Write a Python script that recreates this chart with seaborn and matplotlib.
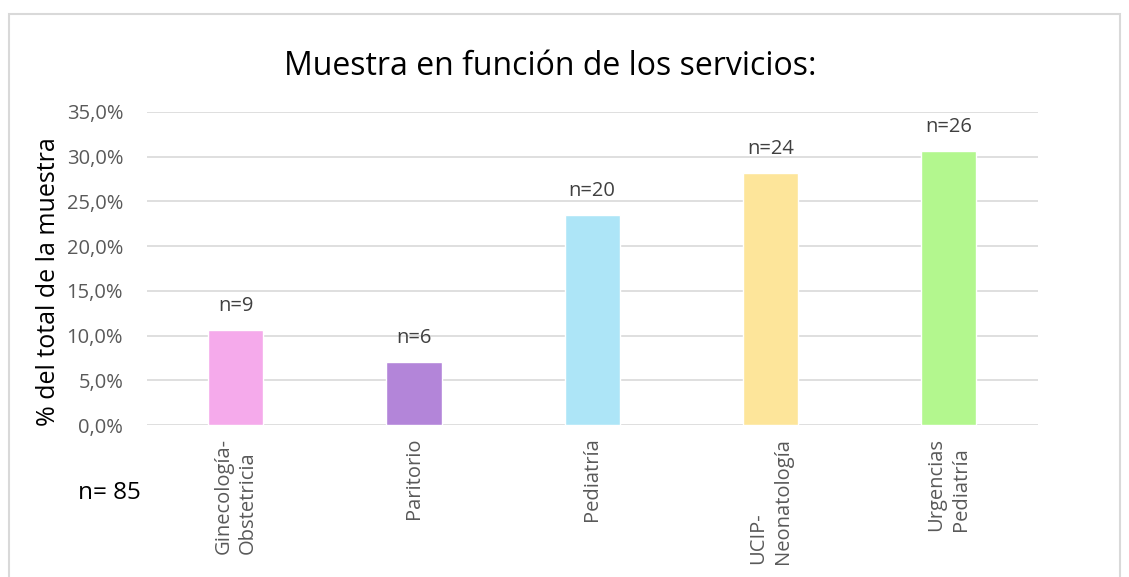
import matplotlib
matplotlib.use("Agg")
import matplotlib.pyplot as plt
import matplotlib.ticker as ticker
from matplotlib.patches import Rectangle
import seaborn as sns
import pandas as pd

servicios = ["Ginecología-\nObstetricia", "Paritorio", "Pediatría", "UCIP-\nNeonatología", "Urgencias\nPediatría"]
porcentajes = [10.6, 7.1, 23.5, 28.2, 30.6]
n_etiquetas = ["n=9", "n=6", "n=20", "n=24", "n=26"]
colores = ["#F5AAEB", "#B385D9", "#ADE5F7", "#FDE59A", "#B3F78E"]
yticks = [0, 5, 10, 15, 20, 25, 30, 35]

df = pd.DataFrame({"Servicio": servicios, "Porcentaje": porcentajes})

sns.set_style("white")
plt.rcParams['font.family'] = ['Open Sans', 'DejaVu Sans']

fig = plt.figure(figsize=(11.29, 5.77), dpi=100)
ax = fig.add_axes([0.130, 0.263, 0.789, 0.543])

sns.barplot(data=df, x="Servicio", y="Porcentaje", hue="Servicio", palette=colores,
            width=0.31, legend=False, ax=ax, saturation=1)

ax.set_xlim(-0.5, 4.5)
ax.set_ylim(0, 35)
ax.set_yticks(yticks)
ax.yaxis.set_major_formatter(ticker.FuncFormatter(lambda v, p: f"{v:.1f}%".replace(".", ",")))
ax.grid(axis='y', color='#D9D9D9', linewidth=1.2)
ax.set_axisbelow(True)
for s in ax.spines.values():
    s.set_visible(False)
ax.tick_params(axis='both', length=0, labelsize=14.5, labelcolor='#595959')
ax.tick_params(axis='y', pad=17)
ax.tick_params(axis='x', pad=9)
plt.setp(ax.get_xticklabels(), rotation=90, va='top', ha='center', multialignment='left',
         linespacing=1.3)

for i, (v, t) in enumerate(zip(porcentajes, n_etiquetas)):
    ax.annotate(t, (i, v), xytext=(0, 10), textcoords="offset points", ha='center', va='bottom',
                fontsize=14.5, color='#404040')

ax.set_xlabel("")
ax.set_ylabel("% del total de la muestra", fontsize=18, color='black', labelpad=4)
ax.yaxis.label.set_y(0.46)
fig.text(0.487, 0.884, "Muestra en función de los servicios:", ha='center', va='center', fontsize=23,
         color='black')
fig.text(0.069, 0.146, "n= 85", ha='left', va='center', fontsize=17.5, color='black')

fig.patches.append(Rectangle((9 / 1129, -0.1), (1120 - 9) / 1129, 1.1 - 14 / 577, transform=fig.transFigure,
                             fill=False, edgecolor='#D9D9D9', linewidth=1.5))

fig.savefig("out.png", dpi=100)
